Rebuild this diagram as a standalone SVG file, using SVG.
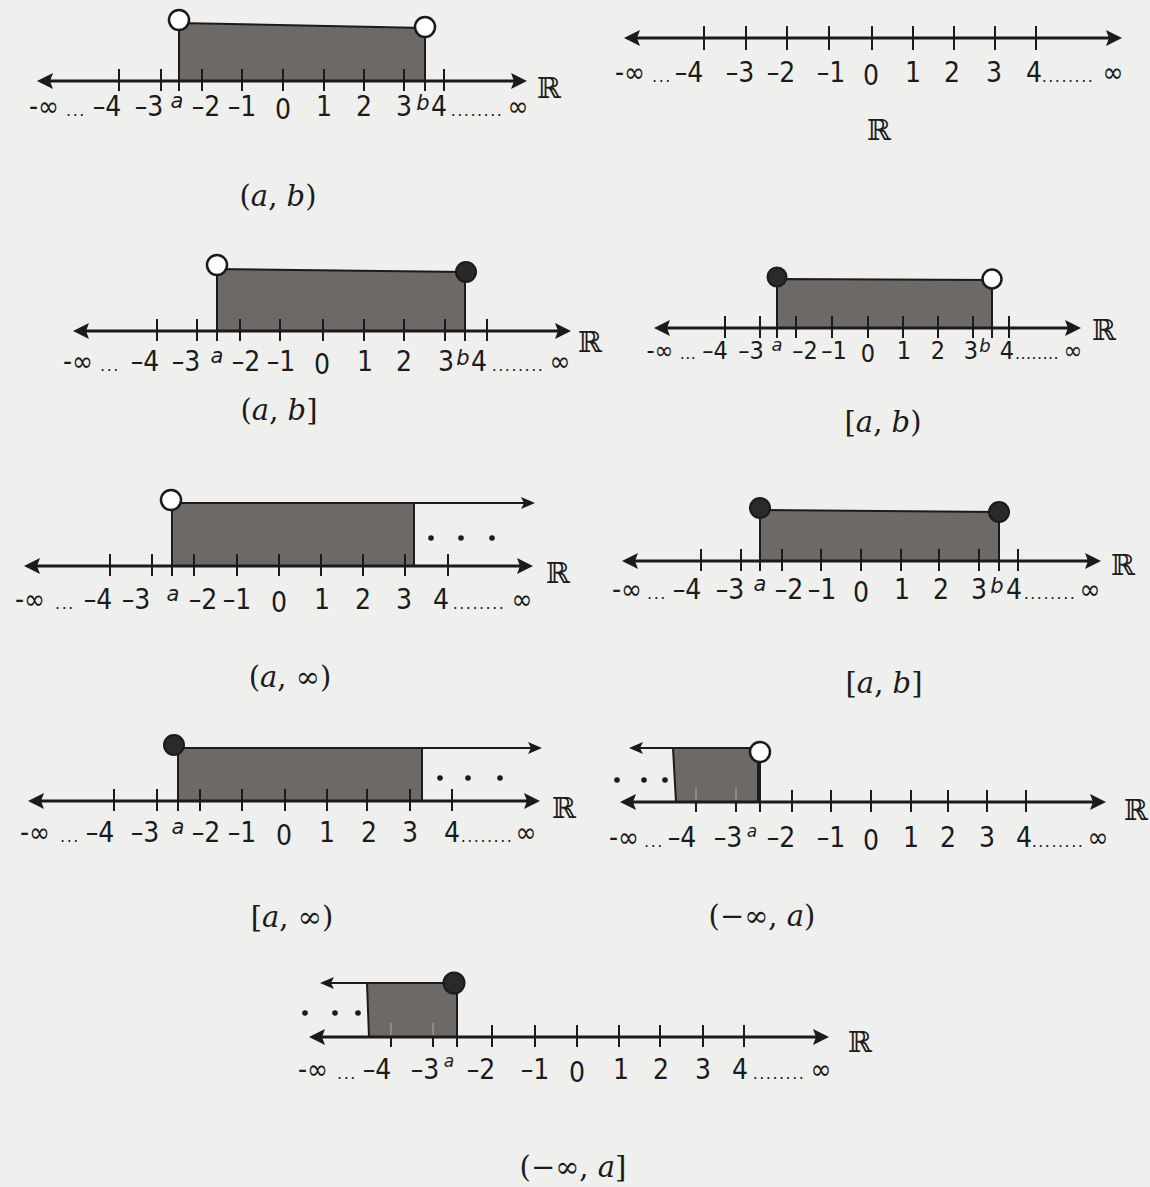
<svg xmlns="http://www.w3.org/2000/svg" width="1150" height="1187" viewBox="0 0 1150 1187">
<defs>
<style>
.axis{stroke:#1b1b1b;stroke-width:3;fill:none}
.tick{stroke:#1b1b1b;stroke-width:2;fill:none}
.faint{stroke:#9a9594;stroke-width:1.5;fill:none}
.ray{stroke:#1b1b1b;stroke-width:2;fill:none}
.band{fill:#6e6967;stroke:#1b1b1b;stroke-width:2}
.open{fill:#ffffff;stroke:#1b1b1b;stroke-width:2.5}
.closed{fill:#2a2a2a;stroke:#1b1b1b;stroke-width:2}
.dot{fill:#1b1b1b}
text{fill:#1b1b1b}
.n{font-family:"DejaVu Sans Condensed","DejaVu Sans",sans-serif;font-stretch:condensed;font-size:28px;text-anchor:middle}
.v{font-family:"DejaVu Sans",sans-serif;font-style:italic;font-size:21px;text-anchor:middle}
.vs{font-family:"DejaVu Sans",sans-serif;font-style:italic;font-size:17px;text-anchor:middle}
.d{font-family:"DejaVu Sans",sans-serif;font-size:16px;letter-spacing:1.5px;text-anchor:middle}
.R{font-family:"DejaVu Serif",serif;font-size:29px;text-anchor:middle}
.cap{font-family:"DejaVu Serif",serif;font-size:29px;text-anchor:middle}
.it{font-style:italic}
#p4-closed-open .n{font-size:25px}
#p4-closed-open .v{font-size:18px}
#p4-closed-open .d{letter-spacing:0.4px}
</style>
<marker id="ah" viewBox="0 0 16 16" refX="12" refY="8" markerWidth="16" markerHeight="16" markerUnits="userSpaceOnUse" orient="auto-start-reverse"><path d="M0,0L16,8L0,16L3,8Z" fill="#1b1b1b"/></marker>
<marker id="ah2" viewBox="0 0 14 12" refX="10" refY="6" markerWidth="14" markerHeight="12" markerUnits="userSpaceOnUse" orient="auto"><path d="M0,0L14,6L0,12L3,6Z" fill="#1b1b1b"/></marker>
</defs>
<rect x="0" y="0" width="1150" height="1187" fill="#efefee"/>

<g id="p1-open-open">
<polygon class="band" points="179,23 425,28 425,81 179,81"/>
<line class="axis" x1="41" y1="81" x2="523" y2="81" marker-start="url(#ah)" marker-end="url(#ah)"/>
<path class="tick" d="M119,69V91M161,69V91M202,69V91M242,69V91M283,69V91M324,69V91M364,69V91M404,69V91M444,69V91M179,30V91M425,37V91"/>
<circle class="open" cx="179" cy="20" r="10"/>
<circle class="open" cx="425" cy="27" r="10"/>
<text class="n" x="44" y="116">-∞</text><text class="d" x="76" y="116">...</text>
<text class="n" x="107" y="116">–4</text><text class="n" x="149" y="116">–3</text>
<text class="v" x="177" y="108">a</text>
<text class="n" x="206" y="116">–2</text><text class="n" x="242" y="116">–1</text>
<text class="n" x="283" y="119">0</text><text class="n" x="324" y="116">1</text>
<text class="n" x="364" y="116">2</text><text class="n" x="404" y="116">3</text>
<text class="v" x="423" y="110">b</text><text class="n" x="439" y="116">4</text>
<text class="d" x="477" y="116">........</text><text class="n" x="518" y="116">∞</text>
<text class="R" x="549" y="98">ℝ</text>
<text class="cap" x="278" y="206">(<tspan class="it">a</tspan>, <tspan class="it">b</tspan>)</text>
</g>

<g id="p2-real-line">
<line class="axis" x1="628" y1="38" x2="1118" y2="38" marker-start="url(#ah)" marker-end="url(#ah)"/>
<path class="tick" d="M704,26V50M746,26V50M787,26V50M829,26V50M872,26V50M913,26V50M954,26V50M995,26V50M1036,26V50"/>
<text class="n" x="630" y="82">-∞</text><text class="d" x="662" y="82">...</text>
<text class="n" x="689" y="82">–4</text><text class="n" x="740" y="82">–3</text>
<text class="n" x="781" y="82">–2</text><text class="n" x="831" y="82">–1</text>
<text class="n" x="871" y="85">0</text><text class="n" x="913" y="82">1</text>
<text class="n" x="952" y="82">2</text><text class="n" x="994" y="82">3</text>
<text class="n" x="1034" y="82">4</text><text class="d" x="1068" y="82">........</text>
<text class="n" x="1113" y="82">∞</text>
<text class="R" x="879" y="140">ℝ</text>
</g>

<g id="p3-open-closed">
<polygon class="band" points="217,269 465,272 465,331 217,331"/>
<line class="axis" x1="77" y1="331" x2="567" y2="331" marker-start="url(#ah)" marker-end="url(#ah)"/>
<path class="tick" d="M157,319V341M197,319V341M240,319V341M280,319V341M323,319V341M364,319V341M404,319V341M445,319V341M487,319V341M217,275V341M465,281V341"/>
<circle class="open" cx="217" cy="265" r="10"/>
<circle class="closed" cx="466" cy="272" r="10"/>
<text class="n" x="78" y="371">-∞</text><text class="d" x="110" y="371">...</text>
<text class="n" x="145" y="371">–4</text><text class="n" x="186" y="371">–3</text>
<text class="v" x="217" y="363">a</text>
<text class="n" x="246" y="371">–2</text><text class="n" x="281" y="371">–1</text>
<text class="n" x="322" y="374">0</text><text class="n" x="365" y="371">1</text>
<text class="n" x="404" y="371">2</text><text class="n" x="446" y="371">3</text>
<text class="v" x="463" y="365">b</text><text class="n" x="479" y="371">4</text>
<text class="d" x="518" y="371">........</text><text class="n" x="560" y="371">∞</text>
<text class="R" x="590" y="352">ℝ</text>
<text class="cap" x="279" y="420">(<tspan class="it">a</tspan>, <tspan class="it">b</tspan>]</text>
</g>

<g id="p4-closed-open">
<polygon class="band" points="777,279 992,280 992,328 777,328"/>
<line class="axis" x1="658" y1="328" x2="1077" y2="328" marker-start="url(#ah)" marker-end="url(#ah)"/>
<path class="tick" d="M725,316V338M760,316V338M796,316V338M832,316V338M868,316V338M903,316V338M938,316V338M973,316V338M1009,316V338M777,286V338M992,289V338"/>
<circle class="closed" cx="777" cy="277" r="9.5"/>
<circle class="open" cx="992" cy="279" r="9.5"/>
<text class="n" x="660" y="359">-∞</text><text class="d" x="688" y="359">...</text>
<text class="n" x="715" y="359">–4</text><text class="n" x="751" y="359">–3</text>
<text class="v" x="777" y="351">a</text>
<text class="n" x="805" y="359">–2</text><text class="n" x="834" y="359">–1</text>
<text class="n" x="868" y="362">0</text><text class="n" x="904" y="359">1</text>
<text class="n" x="938" y="359">2</text><text class="n" x="971" y="359">3</text>
<text class="v" x="985" y="352">b</text><text class="n" x="1007" y="359">4</text>
<text class="d" x="1037" y="359">........</text><text class="n" x="1073" y="359">∞</text>
<text class="R" x="1104" y="340">ℝ</text>
<text class="cap" x="883" y="432">[<tspan class="it">a</tspan>, <tspan class="it">b</tspan>)</text>
</g>

<g id="p5-open-inf">
<polygon class="band" points="172,503 414,503 414,566 172,566"/>
<line class="ray" x1="180" y1="503" x2="531" y2="503" marker-end="url(#ah2)"/>
<line class="axis" x1="28" y1="566" x2="529" y2="566" marker-start="url(#ah)" marker-end="url(#ah)"/>
<path class="tick" d="M110,554V576M152,554V576M194,554V576M237,554V576M279,554V576M321,554V576M363,554V576M405,554V576M448,554V576M172,510V576"/>
<circle class="open" cx="171" cy="500" r="10"/>
<circle class="dot" cx="431" cy="538" r="2.8"/><circle class="dot" cx="461" cy="538" r="2.8"/><circle class="dot" cx="492" cy="538" r="2.8"/>
<text class="n" x="30" y="609">-∞</text><text class="d" x="65" y="609">...</text>
<text class="n" x="98" y="609">–4</text><text class="n" x="136" y="609">–3</text>
<text class="v" x="173" y="601">a</text>
<text class="n" x="203" y="609">–2</text><text class="n" x="237" y="609">–1</text>
<text class="n" x="279" y="612">0</text><text class="n" x="322" y="609">1</text>
<text class="n" x="363" y="609">2</text><text class="n" x="404" y="609">3</text>
<text class="n" x="441" y="609">4</text>
<text class="d" x="479" y="609">........</text><text class="n" x="522" y="609">∞</text>
<text class="R" x="558" y="583">ℝ</text>
<text class="cap" x="290" y="687">(<tspan class="it">a</tspan>, ∞)</text>
</g>

<g id="p6-closed-closed">
<polygon class="band" points="760,510 999,512 999,561 760,561"/>
<line class="axis" x1="626" y1="561" x2="1097" y2="561" marker-start="url(#ah)" marker-end="url(#ah)"/>
<path class="tick" d="M701,549V571M741,549V571M782,549V571M821,549V571M861,549V571M901,549V571M939,549V571M979,549V571M1018,549V571M760,517V571M999,521V571"/>
<circle class="closed" cx="760" cy="508" r="10"/>
<circle class="closed" cx="999" cy="512" r="10"/>
<text class="n" x="627" y="599">-∞</text><text class="d" x="657" y="599">...</text>
<text class="n" x="687" y="599">–4</text><text class="n" x="730" y="599">–3</text>
<text class="v" x="760" y="591">a</text>
<text class="n" x="789" y="599">–2</text><text class="n" x="822" y="599">–1</text>
<text class="n" x="861" y="602">0</text><text class="n" x="902" y="599">1</text>
<text class="n" x="941" y="599">2</text><text class="n" x="979" y="599">3</text>
<text class="v" x="997" y="593">b</text><text class="n" x="1014" y="599">4</text>
<text class="d" x="1050" y="599">........</text><text class="n" x="1090" y="599">∞</text>
<text class="R" x="1123" y="575">ℝ</text>
<text class="cap" x="884" y="693">[<tspan class="it">a</tspan>, <tspan class="it">b</tspan>]</text>
</g>

<g id="p7-closed-inf">
<polygon class="band" points="178,748 422,748 422,801 178,801"/>
<line class="ray" x1="182" y1="748" x2="538" y2="748" marker-end="url(#ah2)"/>
<line class="axis" x1="32" y1="801" x2="536" y2="801" marker-start="url(#ah)" marker-end="url(#ah)"/>
<path class="tick" d="M114,789V811M157,789V811M200,789V811M242,789V811M285,789V811M327,789V811M367,789V811M410,789V811M452,789V811M178,754V811"/>
<circle class="closed" cx="174" cy="745" r="10"/>
<circle class="dot" cx="440" cy="778" r="2.8"/><circle class="dot" cx="468" cy="778" r="2.8"/><circle class="dot" cx="500" cy="778" r="2.8"/>
<text class="n" x="35" y="842">-∞</text><text class="d" x="70" y="842">...</text>
<text class="n" x="100" y="842">–4</text><text class="n" x="145" y="842">–3</text>
<text class="v" x="178" y="834">a</text>
<text class="n" x="206" y="842">–2</text><text class="n" x="242" y="842">–1</text>
<text class="n" x="284" y="845">0</text><text class="n" x="327" y="842">1</text>
<text class="n" x="369" y="842">2</text><text class="n" x="410" y="842">3</text>
<text class="n" x="452" y="842">4</text>
<text class="d" x="487" y="842">........</text><text class="n" x="526" y="842">∞</text>
<text class="R" x="564" y="818">ℝ</text>
<text class="cap" x="292" y="927">[<tspan class="it">a</tspan>, ∞)</text>
</g>

<g id="p8-inf-open">
<path class="tick" d="M696,790V812M736,790V812"/>
<polygon class="band" points="673,748 758,748 758,802 676,802"/>
<path class="faint" d="M696,788V800M736,788V800"/>
<line class="ray" x1="751" y1="748" x2="633" y2="748" marker-end="url(#ah2)"/>
<line class="axis" x1="624" y1="802" x2="1102" y2="802" marker-start="url(#ah)" marker-end="url(#ah)"/>
<path class="tick" d="M792,790V812M831,790V812M871,790V812M911,790V812M948,790V812M987,790V812M1026,790V812M760,762V812"/>
<circle class="open" cx="760" cy="752" r="10"/>
<circle class="dot" cx="617" cy="780" r="2.8"/><circle class="dot" cx="644" cy="780" r="2.8"/><circle class="dot" cx="665" cy="780" r="2.8"/>
<text class="n" x="624" y="847">-∞</text><text class="d" x="654" y="847">...</text>
<text class="n" x="682" y="847">–4</text><text class="n" x="728" y="847">–3</text>
<text class="vs" x="752" y="837">a</text>
<text class="n" x="781" y="847">–2</text><text class="n" x="831" y="847">–1</text>
<text class="n" x="871" y="850">0</text><text class="n" x="911" y="847">1</text>
<text class="n" x="948" y="847">2</text><text class="n" x="987" y="847">3</text>
<text class="n" x="1024" y="847">4</text>
<text class="d" x="1058" y="847">........</text><text class="n" x="1098" y="847">∞</text>
<text class="R" x="1136" y="820">ℝ</text>
<text class="cap" x="762" y="926">(−∞, <tspan class="it">a</tspan>)</text>
</g>

<g id="p9-inf-closed">
<path class="tick" d="M391,1025V1047M433,1025V1047"/>
<polygon class="band" points="367,983 457,983 457,1037 369,1037"/>
<path class="faint" d="M391,1023V1035M433,1023V1035"/>
<line class="ray" x1="446" y1="983" x2="324" y2="983" marker-end="url(#ah2)"/>
<line class="axis" x1="313" y1="1037" x2="825" y2="1037" marker-start="url(#ah)" marker-end="url(#ah)"/>
<path class="tick" d="M492,1025V1047M535,1025V1047M577,1025V1047M619,1025V1047M660,1025V1047M703,1025V1047M744,1025V1047M457,992V1047"/>
<circle class="closed" cx="454" cy="983" r="10.5"/>
<circle class="dot" cx="305" cy="1013" r="2.8"/><circle class="dot" cx="335" cy="1013" r="2.8"/><circle class="dot" cx="358" cy="1013" r="2.8"/>
<text class="n" x="313" y="1079">-∞</text><text class="d" x="347" y="1079">...</text>
<text class="n" x="377" y="1079">–4</text><text class="n" x="425" y="1079">–3</text>
<text class="vs" x="449" y="1067">a</text>
<text class="n" x="481" y="1079">–2</text><text class="n" x="535" y="1079">–1</text>
<text class="n" x="577" y="1082">0</text><text class="n" x="621" y="1079">1</text>
<text class="n" x="661" y="1079">2</text><text class="n" x="703" y="1079">3</text>
<text class="n" x="740" y="1079">4</text>
<text class="d" x="779" y="1079">........</text><text class="n" x="821" y="1079">∞</text>
<text class="R" x="860" y="1052">ℝ</text>
<text class="cap" x="573" y="1177">(−∞, <tspan class="it">a</tspan>]</text>
</g>
</svg>
